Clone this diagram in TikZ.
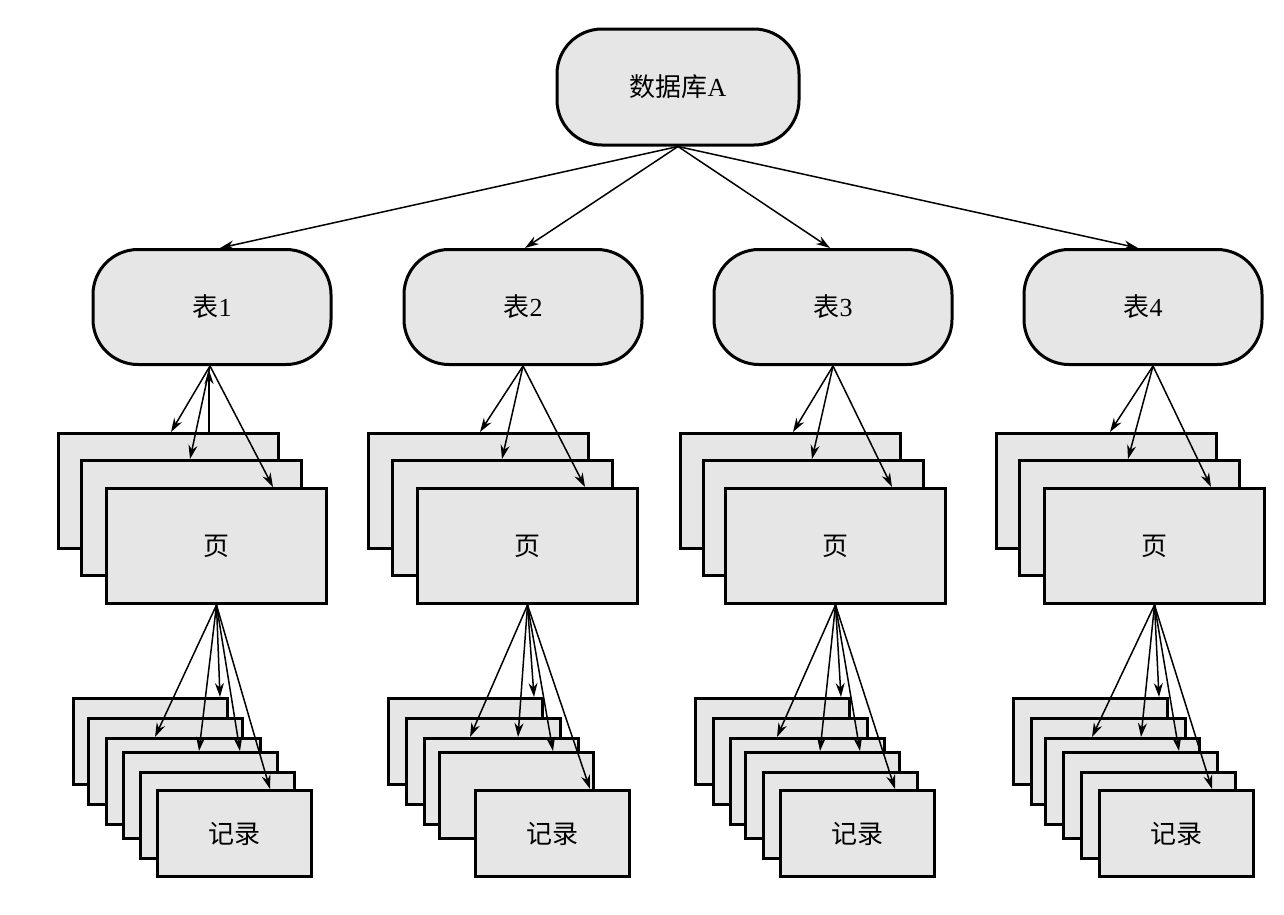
\documentclass[tikz,border=0pt]{standalone}
\usepackage{fontspec}
\setmainfont{Liberation Serif}
\newfontfamily\cjk{Noto Sans CJK SC}
\usetikzlibrary{arrows.meta}
\definecolor{boxgray}{HTML}{E6E6E6}
\begin{document}
\begin{tikzpicture}[x=1pt,y=-1pt,
  term/.style={draw, line width=3pt, fill=boxgray, rounded corners=45pt,
    minimum width=238pt, minimum height=115pt, inner sep=0pt,
    font=\fontsize{26}{30}\selectfont},
  sheet/.style={draw, line width=3pt, fill=boxgray, anchor=north west, inner sep=0pt,
    font=\fontsize{26}{30}\selectfont},
  pagebox/.style={sheet, minimum width=220pt, minimum height=115pt},
  recbox/.style={sheet, minimum width=154pt, minimum height=86pt},
  link/.style={line width=1.5pt, -{Stealth[length=14pt,width=9pt]}}]
\useasboundingbox[fill=white] (0,0) rectangle (1284,914);

% database
\node[term, minimum width=242pt, minimum height=116pt] (db) at (678,87) {{\cjk 数据库}A};

% tables
\node[term] (t1) at (212,307) {{\cjk 表}1};
\node[term] (t2) at (523,307) {{\cjk 表}2};
\node[term] (t3) at (833,307) {{\cjk 表}3};
\node[term] (t4) at (1143,307) {{\cjk 表}4};

% pages
\node[pagebox] (c1p1) at (57,432) {};
\node[pagebox] (c1p2) at (80,459) {};
\node[pagebox] (c1p3) at (105,487) {\cjk 页};
\node[pagebox] (c2p1) at (367,432) {};
\node[pagebox] (c2p2) at (391,459) {};
\node[pagebox] (c2p3) at (416,487) {\cjk 页};
\node[pagebox] (c3p1) at (679,432) {};
\node[pagebox] (c3p2) at (702,459) {};
\node[pagebox] (c3p3) at (724,487) {\cjk 页};
\node[pagebox] (c4p1) at (995,432) {};
\node[pagebox] (c4p2) at (1018,459) {};
\node[pagebox] (c4p3) at (1043,487) {\cjk 页};

% records column 1
\node[recbox] (c1r1) at (72,697) {};
\node[recbox] (c1r2) at (87,717) {};
\node[recbox] (c1r3) at (105,737) {};
\node[recbox] (c1r4) at (122,751) {};
\node[recbox] (c1r5) at (139,771) {};
\node[recbox] (c1r6) at (156,789) {\cjk 记录};
% records column 2
\node[recbox] (c2r1) at (387,697) {};
\node[recbox] (c2r2) at (405,717) {};
\node[recbox] (c2r3) at (423,737) {};
\node[recbox] (c2r4) at (438,751) {};
\node[recbox] (c2r5) at (474,789) {\cjk 记录};
% records column 3
\node[recbox] (c3r1) at (694,697) {};
\node[recbox] (c3r2) at (712,717) {};
\node[recbox] (c3r3) at (729,737) {};
\node[recbox] (c3r4) at (744,751) {};
\node[recbox] (c3r5) at (762,771) {};
\node[recbox] (c3r6) at (779,789) {\cjk 记录};
% records column 4
\node[recbox] (c4r1) at (1012,697) {};
\node[recbox] (c4r2) at (1030,717) {};
\node[recbox] (c4r3) at (1044,737) {};
\node[recbox] (c4r4) at (1062,751) {};
\node[recbox] (c4r5) at (1080,771) {};
\node[recbox] (c4r6) at (1098,789) {\cjk 记录};

% database -> tables
\draw[link] (db.south) -- ([xshift=8pt]t1.north);
\draw[link] (db.south) -- ([xshift=2pt]t2.north);
\draw[link] (db.south) -- ([xshift=-3pt]t3.north);
\draw[link] (db.south) -- ([xshift=-5pt]t4.north);

% tables -> pages
\draw[link] ([xshift=-2pt]t1.south) -- ([xshift=114pt]c1p1.north west);
\draw[link] ([xshift=-2pt]t1.south) -- ([xshift=110pt]c1p2.north west);
\draw[link] ([xshift=-2pt]t1.south) -- ([xshift=168pt]c1p3.north west);
\draw[link] ([xshift=152pt]c1p1.north west) -- ([xshift=-3pt,yshift=-4pt]t1.south);
\draw[link] (t2.south) -- ([xshift=113pt]c2p1.north west);
\draw[link] (t2.south) -- ([xshift=111pt]c2p2.north west);
\draw[link] (t2.south) -- ([xshift=169pt]c2p3.north west);
\draw[link] (t3.south) -- ([xshift=114pt]c3p1.north west);
\draw[link] (t3.south) -- ([xshift=110pt]c3p2.north west);
\draw[link] (t3.south) -- ([xshift=168pt]c3p3.north west);
\draw[link] ([xshift=10pt]t4.south) -- ([xshift=115pt]c4p1.north west);
\draw[link] ([xshift=10pt]t4.south) -- ([xshift=110pt]c4p2.north west);
\draw[link] ([xshift=10pt]t4.south) -- ([xshift=168pt]c4p3.north west);

% pages -> records
\draw[link] (c1p3.south) -- ([xshift=50pt]c1r3.north west);
\draw[link] (c1p3.south) -- ([xshift=77pt]c1r4.north west);
\draw[link] (c1p3.south) -- ([xshift=148pt]c1r1.north west);
\draw[link] (c1p3.south) -- ([xshift=118pt]c1r4.north west);
\draw[link] (c1p3.south) -- ([xshift=114pt]c1r6.north west);

\draw[link] (c2p3.south) -- ([xshift=47pt]c2r3.north west);
\draw[link] (c2p3.south) -- ([xshift=95pt]c2r3.north west);
\draw[link] (c2p3.south) -- ([xshift=147pt]c2r1.north west);
\draw[link] (c2p3.south) -- ([xshift=115pt]c2r4.north west);
\draw[link] (c2p3.south) -- ([xshift=116pt]c2r5.north west);

\draw[link] (c3p3.south) -- ([xshift=48pt]c3r3.north west);
\draw[link] (c3p3.south) -- ([xshift=76pt]c3r4.north west);
\draw[link] (c3p3.south) -- ([xshift=147pt]c3r1.north west);
\draw[link] (c3p3.south) -- ([xshift=116pt]c3r4.north west);
\draw[link] (c3p3.south) -- ([xshift=116pt]c3r6.north west);

\draw[link] (c4p3.south) -- ([xshift=48pt]c4r3.north west);
\draw[link] (c4p3.south) -- ([xshift=97pt]c4r3.north west);
\draw[link] (c4p3.south) -- ([xshift=147pt]c4r1.north west);
\draw[link] (c4p3.south) -- ([xshift=117pt]c4r4.north west);
\draw[link] (c4p3.south) -- ([xshift=114pt]c4r6.north west);
\end{tikzpicture}
\end{document}
